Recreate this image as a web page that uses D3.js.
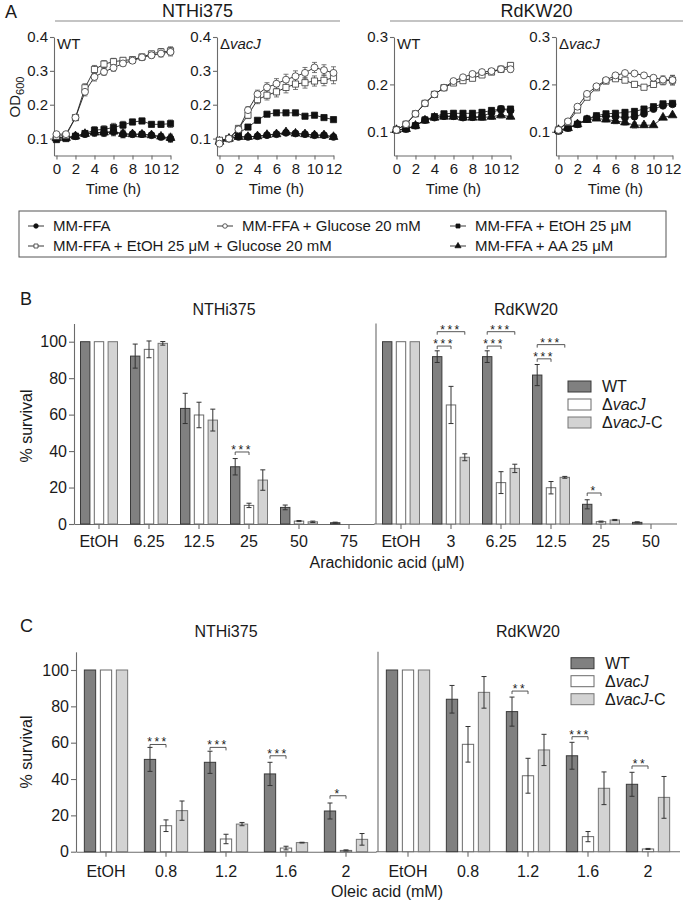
<!DOCTYPE html>
<html>
<head>
<meta charset="utf-8">
<script src="https://cdn.jsdelivr.net/npm/d3@7"></script>
<style>
  body { margin: 0; background: #fff; }
  text { font-family: Arial, "Liberation Sans", sans-serif; fill: #1a1a1a; }
</style>
</head>
<body>
<svg id="fig" width="685" height="905"></svg>
<script>
// ---------- Panel A: growth curves (OD600 vs time) ----------
var hours = [0, 1, 2, 3, 4, 5, 6, 7, 8, 9, 10, 11, 12];
var timeTicks = [0, 2, 4, 6, 8, 10, 12];

// NTHi375 WT
var ntWT_ffa   = [0.103, 0.103, 0.107, 0.113, 0.117, 0.117, 0.120, 0.113, 0.113, 0.113, 0.110, 0.105, 0.100];
var ntWT_glc   = [0.113, 0.113, 0.162, 0.238, 0.282, 0.297, 0.309, 0.322, 0.330, 0.340, 0.346, 0.351, 0.356];
var ntWT_etoh  = [0.097, 0.100, 0.107, 0.115, 0.125, 0.127, 0.133, 0.140, 0.149, 0.152, 0.142, 0.142, 0.144];
var ntWT_etglc = [0.107, 0.109, 0.162, 0.250, 0.304, 0.320, 0.327, 0.331, 0.333, 0.341, 0.350, 0.356, 0.359];
var ntWT_aa    = [0.101, 0.102, 0.107, 0.114, 0.118, 0.118, 0.121, 0.114, 0.113, 0.112, 0.110, 0.106, 0.102];
var ntWT_errOpen   = [0.006, 0.005, 0.008, 0.012, 0.012, 0.010, 0.010, 0.008, 0.008, 0.008, 0.008, 0.010, 0.012];
var ntWT_errFilled = [0.007, 0.006, 0.005, 0.008, 0.010, 0.011, 0.012, 0.011, 0.008, 0.008, 0.007, 0.009, 0.011];

// NTHi375 ΔvacJ
var ntVJ_ffa   = [0.090, 0.100, 0.105, 0.105, 0.107, 0.110, 0.113, 0.117, 0.115, 0.113, 0.110, 0.110, 0.105];
var ntVJ_glc   = [0.085, 0.100, 0.127, 0.184, 0.231, 0.251, 0.262, 0.274, 0.284, 0.294, 0.310, 0.302, 0.294];
var ntVJ_etoh  = [0.093, 0.100, 0.115, 0.134, 0.154, 0.172, 0.176, 0.176, 0.176, 0.166, 0.169, 0.162, 0.156];
var ntVJ_etglc = [0.095, 0.100, 0.130, 0.169, 0.215, 0.228, 0.238, 0.251, 0.261, 0.265, 0.270, 0.272, 0.280];
var ntVJ_aa    = [0.091, 0.100, 0.105, 0.105, 0.107, 0.111, 0.113, 0.119, 0.115, 0.113, 0.110, 0.110, 0.105];
var ntVJ_errOpen   = [0.007, 0.005, 0.008, 0.010, 0.012, 0.014, 0.015, 0.016, 0.016, 0.016, 0.015, 0.016, 0.018];
var ntVJ_errFilled = [0.006, 0.004, 0.004, 0.004, 0.004, 0.004, 0.004, 0.005, 0.004, 0.004, 0.004, 0.004, 0.004];

// RdKW20 WT
var rdWT_ffa   = [0.104, 0.106, 0.113, 0.125, 0.130, 0.133, 0.133, 0.130, 0.131, 0.133, 0.140, 0.148, 0.145];
var rdWT_glc   = [0.104, 0.116, 0.138, 0.160, 0.179, 0.193, 0.207, 0.215, 0.222, 0.226, 0.228, 0.232, 0.232];
var rdWT_etoh  = [0.104, 0.106, 0.113, 0.125, 0.132, 0.138, 0.139, 0.139, 0.139, 0.141, 0.145, 0.148, 0.148];
var rdWT_etglc = [0.104, 0.116, 0.138, 0.160, 0.179, 0.193, 0.203, 0.208, 0.213, 0.220, 0.226, 0.232, 0.240];
var rdWT_aa    = [0.104, 0.106, 0.113, 0.124, 0.130, 0.132, 0.132, 0.130, 0.130, 0.130, 0.132, 0.135, 0.132];
var rdWT_errOpen   = [0.003, 0.003, 0.003, 0.003, 0.004, 0.004, 0.004, 0.004, 0.005, 0.005, 0.005, 0.006, 0.006];
var rdWT_errFilled = [0.003, 0.003, 0.003, 0.004, 0.004, 0.005, 0.006, 0.006, 0.006, 0.006, 0.006, 0.006, 0.005];

// RdKW20 ΔvacJ
var rdVJ_ffa   = [0.102, 0.108, 0.116, 0.127, 0.132, 0.133, 0.132, 0.130, 0.132, 0.138, 0.148, 0.155, 0.158];
var rdVJ_glc   = [0.104, 0.122, 0.153, 0.180, 0.196, 0.209, 0.219, 0.224, 0.223, 0.219, 0.214, 0.210, 0.209];
var rdVJ_etoh  = [0.102, 0.108, 0.116, 0.127, 0.134, 0.138, 0.139, 0.141, 0.143, 0.148, 0.153, 0.159, 0.160];
var rdVJ_etglc = [0.104, 0.120, 0.146, 0.173, 0.193, 0.207, 0.212, 0.209, 0.200, 0.194, 0.200, 0.207, 0.209];
var rdVJ_aa    = [0.104, 0.108, 0.116, 0.125, 0.128, 0.126, 0.123, 0.120, 0.114, 0.114, 0.114, 0.130, 0.135];
var rdVJ_errOpen   = [0.003, 0.003, 0.004, 0.004, 0.004, 0.004, 0.004, 0.004, 0.004, 0.004, 0.005, 0.008, 0.010];
var rdVJ_errFilled = [0.003, 0.003, 0.003, 0.004, 0.004, 0.005, 0.006, 0.006, 0.006, 0.005, 0.004, 0.004, 0.004];

var legendA = ["MM-FFA", "MM-FFA + Glucose 20 mM", "MM-FFA + EtOH 25 \u03bcM",
               "MM-FFA + EtOH 25 \u03bcM + Glucose 20 mM", "MM-FFA + AA 25 \u03bcM"];

// ---------- Panel B: arachidonic acid survival ----------
var strains = ["WT", "vacJ", "vacJ-C"];
var aaCatsNT = ["EtOH", "6.25", "12.5", "25", "50", "75"];
var aaNT_WT  = [100, 92.1, 63.4, 31.4, 9.1, 0.7];
var aaNT_WTe = [0, 6.6, 8.3, 4.5, 1.3, 0.3];
var aaNT_VJ  = [100, 95.8, 59.8, 10.2, 1.6, 0];
var aaNT_VJe = [0, 4.6, 7.0, 1.2, 0.3, 0];
var aaNT_C   = [100, 99.1, 57.0, 24.1, 1.2, 0];
var aaNT_Ce  = [0, 1.0, 6.0, 5.6, 0.4, 0];
var aaNT_sig = [{ cat: "25", to: 1, at: 39.5, label: "***" }];

var aaCatsRd = ["EtOH", "3", "6.25", "12.5", "25", "50"];
var aaRd_WT  = [100, 91.8, 91.8, 81.7, 10.8, 0.9];
var aaRd_WTe = [0, 3.2, 3.2, 5.8, 2.5, 0.3];
var aaRd_VJ  = [100, 65.3, 22.7, 19.9, 1.3, 0];
var aaRd_VJe = [0, 10.2, 6.0, 3.4, 0.3, 0];
var aaRd_C   = [100, 36.6, 30.5, 25.6, 2.2, 0];
var aaRd_Ce  = [0, 1.9, 2.3, 0.5, 0.3, 0];
var aaRd_sig = [
  { cat: "3", to: 1, at: 97.6, label: "***" }, { cat: "3", to: 2, at: 105.5, label: "***" },
  { cat: "6.25", to: 1, at: 97.6, label: "***" }, { cat: "6.25", to: 2, at: 105.5, label: "***" },
  { cat: "12.5", to: 1, at: 90.6, label: "***" }, { cat: "12.5", to: 2, at: 98.4, label: "***" },
  { cat: "25", to: 1, at: 17, label: "*" }
];

// ---------- Panel C: oleic acid survival ----------
var oaCats = ["EtOH", "0.8", "1.2", "1.6", "2"];
var oaNT_WT  = [100, 50.8, 49.2, 42.8, 22.4];
var oaNT_WTe = [0, 6.6, 6.1, 6.4, 4.4];
var oaNT_VJ  = [100, 14.3, 7.0, 2.0, 0.7];
var oaNT_VJe = [0, 3.2, 2.6, 1.0, 0.3];
var oaNT_C   = [100, 22.6, 15.2, 5.0, 6.8];
var oaNT_Ce  = [0, 5.3, 0.9, 0.2, 3.2];
var oaNT_sig = [
  { cat: "0.8", to: 1, at: 59, label: "***" }, { cat: "1.2", to: 1, at: 57.4, label: "***" },
  { cat: "1.6", to: 1, at: 52.8, label: "***" }, { cat: "2", to: 1, at: 30.8, label: "*" }
];

var oaRd_WT  = [100, 83.9, 77.1, 52.8, 37.1];
var oaRd_WTe = [0, 7.6, 8.0, 7.4, 6.6];
var oaRd_VJ  = [100, 59.1, 41.8, 8.3, 1.5];
var oaRd_VJe = [0, 9.8, 9.6, 2.8, 0.3];
var oaRd_C   = [100, 87.7, 56.0, 34.9, 29.9];
var oaRd_Ce  = [0, 8.7, 8.6, 9.0, 11.5];
var oaRd_sig = [
  { cat: "1.2", to: 1, at: 88.4, label: "**" }, { cat: "1.6", to: 1, at: 63.3, label: "***" },
  { cat: "2", to: 1, at: 47.2, label: "**" }
];

var svg = d3.select("#fig");
var axisGray = "#6b6b6b";

function styleAxis(sel, fs) {
  sel.selectAll(".domain").attr("stroke", axisGray).attr("stroke-width", 1.1);
  sel.selectAll(".tick line").attr("stroke", axisGray).attr("stroke-width", 1.1);
  sel.selectAll(".tick text").style("font-size", fs + "px").attr("fill", "#1a1a1a")
    .style("font-family", "Arial, 'Liberation Sans', sans-serif");
}

function vacJ(sel, suffix) {
  sel.append("tspan").text("\u0394");
  sel.append("tspan").style("font-style", "italic").text("vacJ");
  if (suffix) sel.append("tspan").text(suffix);
}

// ---- panel A ----
var markerDefs = {
  ffa:   { sym: d3.symbolCircle,   open: false },
  glc:   { sym: d3.symbolCircle,   open: true },
  etoh:  { sym: d3.symbolSquare,   open: false },
  etglc: { sym: d3.symbolSquare,   open: true },
  aa:    { sym: d3.symbolTriangle, open: false }
};

function drawMarker(g, key, cx, cy) {
  var m = markerDefs[key];
  g.append("path")
    .attr("d", d3.symbol().type(m.sym).size(m.sym === d3.symbolTriangle ? 34 : 38)())
    .attr("transform", "translate(" + cx + "," + cy + ")")
    .attr("fill", m.open ? "#fff" : "#111")
    .attr("stroke", m.open ? "#333" : "#111")
    .attr("stroke-width", 0.8);
}

function growth(left, yMax, yTicks, series, errOpen, errFilled, tag, withYLabel) {
  var g = svg.append("g");
  var x = d3.scaleLinear().domain([-0.26, 12]).range([left, left + 116.5]);
  var y = d3.scaleLinear().domain([0.05, yMax]).range([155.5, 37]);

  g.append("g").attr("transform", "translate(" + left + ",0)")
    .call(d3.axisLeft(y).tickValues(yTicks).tickFormat(d3.format(".1f"))
      .tickSize(4).tickPadding(2).tickSizeOuter(0))
    .call(styleAxis, 15);
  g.append("g").attr("transform", "translate(0,155.5)")
    .call(d3.axisBottom(x).tickValues(timeTicks).tickSize(4).tickPadding(4).tickSizeOuter(0))
    .call(styleAxis, 15);

  g.append("text").attr("x", x(6)).attr("y", 194).attr("text-anchor", "middle")
    .style("font-size", "15px").text("Time (h)");

  var tagText = g.append("text").attr("x", left + 3).attr("y", 49).style("font-size", "15px");
  if (tag === "WT") tagText.text("WT"); else vacJ(tagText);

  if (withYLabel) {
    var yl = g.append("text").attr("transform", "translate(20,97) rotate(-90)")
      .attr("text-anchor", "middle").style("font-size", "15px");
    yl.append("tspan").text("OD");
    yl.append("tspan").attr("dy", 4).style("font-size", "11px").text("600");
  }

  var line = d3.line().x(function (d, i) { return x(hours[i]); }).y(function (d) { return y(d); });

  series.forEach(function (s) {
    var errs = markerDefs[s.key].open ? errOpen : errFilled;
    g.append("path").datum(s.vals).attr("d", line)
      .attr("fill", "none").attr("stroke", "#222").attr("stroke-width", 0.9);
    s.vals.forEach(function (v, i) {
      var e = errs[i], cx = x(hours[i]);
      if (e > 0.004) {
        g.append("path")
          .attr("d", "M" + (cx - 2.5) + "," + y(v + e) + "H" + (cx + 2.5) +
                     "M" + cx + "," + y(v + e) + "V" + y(v - e) +
                     "M" + (cx - 2.5) + "," + y(v - e) + "H" + (cx + 2.5))
          .attr("stroke", "#555").attr("stroke-width", 0.8).attr("fill", "none");
      }
    });
  });
  series.forEach(function (s) {
    s.vals.forEach(function (v, i) { drawMarker(g, s.key, x(hours[i]), y(v)); });
  });
}

// draw order: AA first so MM-FFA circles sit on top where they overlap
function seriesOf(ffa, glc, etoh, etglc, aa) {
  return [
    { key: "aa", vals: aa }, { key: "ffa", vals: ffa }, { key: "etoh", vals: etoh },
    { key: "etglc", vals: etglc }, { key: "glc", vals: glc }
  ];
}

growth(54, 0.4, [0.1, 0.2, 0.3, 0.4],
  seriesOf(ntWT_ffa, ntWT_glc, ntWT_etoh, ntWT_etglc, ntWT_aa), ntWT_errOpen, ntWT_errFilled, "WT", true);
growth(217, 0.4, [0.1, 0.2, 0.3, 0.4],
  seriesOf(ntVJ_ffa, ntVJ_glc, ntVJ_etoh, ntVJ_etglc, ntVJ_aa), ntVJ_errOpen, ntVJ_errFilled, "vacJ", false);
growth(394, 0.3, [0.1, 0.2, 0.3],
  seriesOf(rdWT_ffa, rdWT_glc, rdWT_etoh, rdWT_etglc, rdWT_aa), rdWT_errOpen, rdWT_errFilled, "WT", false);
growth(556, 0.3, [0.1, 0.2, 0.3],
  seriesOf(rdVJ_ffa, rdVJ_glc, rdVJ_etoh, rdVJ_etglc, rdVJ_aa), rdVJ_errOpen, rdVJ_errFilled, "vacJ", false);

// strain headers
svg.append("text").attr("x", 5).attr("y", 18).style("font-size", "18px").text("A");
[["NTHi375", 55, 340], ["RdKW20", 390, 683]].forEach(function (h) {
  svg.append("text").attr("x", (h[1] + h[2]) / 2).attr("y", 17).attr("text-anchor", "middle")
    .style("font-size", "18px").text(h[0]);
  svg.append("line").attr("x1", h[1]).attr("x2", h[2]).attr("y1", 21).attr("y2", 21)
    .attr("stroke", "#8a8a8a").attr("stroke-width", 1.2);
});

// legend A
svg.append("rect").attr("x", 19).attr("y", 211).attr("width", 647).attr("height", 46)
  .attr("fill", "none").attr("stroke", "#555").attr("stroke-width", 1);
var legPos = [[36, 226], [225, 226], [458, 226], [36, 246], [458, 246]];
var legKeys = ["ffa", "glc", "etoh", "etglc", "aa"];
legendA.forEach(function (lab, i) {
  var p = legPos[i];
  svg.append("line").attr("x1", p[0] - 8).attr("x2", p[0] + 8).attr("y1", p[1]).attr("y2", p[1])
    .attr("stroke", "#222").attr("stroke-width", 0.9);
  var k = legKeys[i];
  svg.append("path")
    .attr("d", d3.symbol().type(markerDefs[k].sym).size(16)())
    .attr("transform", "translate(" + p[0] + "," + p[1] + ")")
    .attr("fill", markerDefs[k].open ? "#fff" : "#111")
    .attr("stroke", markerDefs[k].open ? "#333" : "#111").attr("stroke-width", 0.8);
  svg.append("text").attr("x", p[0] + 17).attr("y", p[1] + 5).style("font-size", "15px").text(lab);
});

// ---- panels B & C: survival bars ----
var barFill = ["#808080", "#ffffff", "#d3d3d3"];
var barStroke = ["#3a3a3a", "#6a6a6a", "#767676"];

function barPanel(cfg) {
  var g = svg.append("g");
  var y = d3.scaleLinear().domain([0, 110]).range([cfg.base, cfg.base - 110 * cfg.pxPer]);

  g.append("g").attr("transform", "translate(" + cfg.axisX + ",0)")
    .call(d3.axisLeft(y).tickValues([0, 20, 40, 60, 80, 100]).tickSize(5).tickPadding(2).tickSizeOuter(0))
    .call(styleAxis, 16);

  cfg.sections.forEach(function (sec, si) {
    var x = d3.scaleBand().domain(sec.cats).range([sec.x0, sec.x1]).padding(0);
    var ax = g.append("g").attr("transform", "translate(0," + cfg.base + ")")
      .call(d3.axisBottom(x).tickSize(5).tickPadding(cfg.labPad).tickSizeOuter(0))
      .call(styleAxis, 16);
    if (si === 1) {
      ax.select(".domain").attr("d", "M" + (sec.x0 - 2) + ",0H" + cfg.xEnd);
      g.append("line").attr("x1", sec.x0).attr("x2", sec.x0)
        .attr("y1", y(110)).attr("y2", cfg.base)
        .attr("stroke", axisGray).attr("stroke-width", 1.1);
    }

    g.append("text").attr("x", (sec.x0 + sec.x1) / 2).attr("y", cfg.titleY)
      .attr("text-anchor", "middle").style("font-size", "16px").text(sec.title);

    sec.cats.forEach(function (c, ci) {
      var cx = x(c) + x.bandwidth() / 2;
      for (var b = 0; b < 3; b++) {
        var v = sec.vals[b][ci], e = sec.errs[b][ci];
        var bx = cx + (b - 1) * cfg.step;
        if (v > 0) {
          g.append("rect").attr("x", bx - cfg.barW / 2).attr("y", y(v))
            .attr("width", cfg.barW).attr("height", cfg.base - y(v))
            .attr("fill", barFill[b]).attr("stroke", barStroke[b]).attr("stroke-width", 1);
        }
        if (e > 0) {
          g.append("path")
            .attr("d", "M" + (bx - 2.5) + "," + y(v + e) + "H" + (bx + 2.5) +
                       "M" + bx + "," + y(v + e) + "V" + y(Math.max(0, v - e)) +
                       "M" + (bx - 2.5) + "," + y(Math.max(0, v - e)) + "H" + (bx + 2.5))
            .attr("stroke", "#333").attr("stroke-width", 1).attr("fill", "none");
        }
      }
    });

    sec.sig.forEach(function (s) {
      var cx = x(s.cat) + x.bandwidth() / 2;
      var xa = cx - cfg.step, xb = cx + (s.to - 1) * cfg.step, yy = y(s.at);
      g.append("path").attr("d", "M" + xa + "," + (yy + 3) + "V" + yy + "H" + xb + "V" + (yy + 3))
        .attr("fill", "none").attr("stroke", "#444").attr("stroke-width", 0.9);
      g.append("text").attr("x", (xa + xb) / 2).attr("y", yy + 2).attr("text-anchor", "middle")
        .style("font-size", "12px").style("letter-spacing", "2.5px").text(s.label);
    });
  });

  g.append("text").attr("transform", "translate(" + cfg.yLab[0] + "," + cfg.yLab[1] + ") rotate(-90)")
    .attr("text-anchor", "middle").style("font-size", "16px").text("% survival");
  g.append("text").attr("x", 387).attr("y", cfg.xTitleY).attr("text-anchor", "middle")
    .style("font-size", "16px").text(cfg.xTitle);
  g.append("text").attr("x", 20).attr("y", cfg.letterY).style("font-size", "18px").text(cfg.letter);

  strains.forEach(function (s, i) {
    var ly = cfg.legY + i * 18;
    g.append("rect").attr("x", cfg.legX).attr("y", ly).attr("width", 23).attr("height", 11)
      .attr("fill", barFill[i]).attr("stroke", barStroke[i]).attr("stroke-width", 1);
    var t = g.append("text").attr("x", cfg.legX + 34).attr("y", ly + 11).style("font-size", "16px");
    if (i === 0) t.text("WT"); else vacJ(t, i === 2 ? "-C" : "");
  });
}

barPanel({
  letter: "B", letterY: 305, axisX: 74, base: 524, pxPer: 1.823, step: 13.8, barW: 9.4, labPad: 7, xEnd: 677,
  titleY: 315, xTitle: "Arachidonic acid (\u03bcM)", xTitleY: 568, yLab: [32, 426],
  legX: 568, legY: 381,
  sections: [
    { title: "NTHi375", cats: aaCatsNT, x0: 74, x1: 374, sig: aaNT_sig,
      vals: [aaNT_WT, aaNT_VJ, aaNT_C], errs: [aaNT_WTe, aaNT_VJe, aaNT_Ce] },
    { title: "RdKW20", cats: aaCatsRd, x0: 376, x1: 676, sig: aaRd_sig,
      vals: [aaRd_WT, aaRd_VJ, aaRd_C], errs: [aaRd_WTe, aaRd_VJe, aaRd_Ce] }
  ]
});

barPanel({
  letter: "C", letterY: 632, axisX: 76, base: 851.7, pxPer: 1.817, step: 16, barW: 11.3, labPad: 9, xEnd: 680,
  titleY: 637, xTitle: "Oleic acid (mM)", xTitleY: 897, yLab: [32, 752],
  legX: 571, legY: 657.7,
  sections: [
    { title: "NTHi375", cats: oaCats, x0: 76, x1: 376, sig: oaNT_sig,
      vals: [oaNT_WT, oaNT_VJ, oaNT_C], errs: [oaNT_WTe, oaNT_VJe, oaNT_Ce] },
    { title: "RdKW20", cats: oaCats, x0: 378, x1: 678, sig: oaRd_sig,
      vals: [oaRd_WT, oaRd_VJ, oaRd_C], errs: [oaRd_WTe, oaRd_VJe, oaRd_Ce] }
  ]
});
</script>
</body>
</html>
